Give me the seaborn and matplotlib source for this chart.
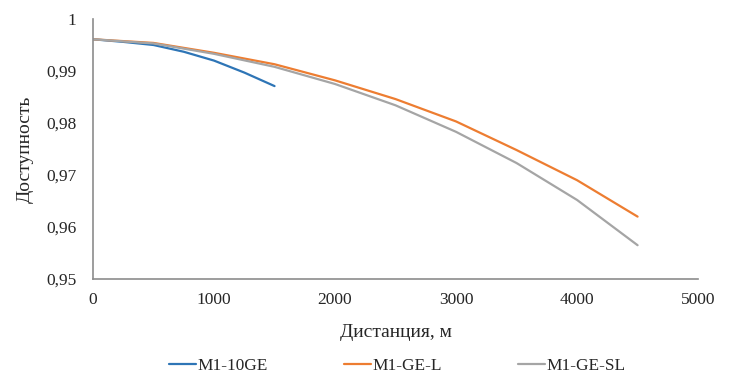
import numpy as np
import pandas as pd
import matplotlib
matplotlib.use("Agg")
import matplotlib.pyplot as plt
import seaborn as sns
from matplotlib.lines import Line2D

# Data
blue_x = [0, 250, 500, 750, 1000, 1250, 1500]
blue_y = [0.9961, 0.9956, 0.9950, 0.9937, 0.9920, 0.9897, 0.9871]
dist = [0, 500, 1000, 1500, 2000, 2500, 3000, 3500, 4000, 4500]
orange_y = [0.9961, 0.9954, 0.9935, 0.9913, 0.9882, 0.9846, 0.9803, 0.9748, 0.9690, 0.9620]
gray_y = [0.9961, 0.9953, 0.9933, 0.9908, 0.9875, 0.9834, 0.9783, 0.9723, 0.9652, 0.9565]
series_names = ["M1-10GE", "M1-GE-L", "M1-GE-SL"]
colors = ["#2E75B6", "#ED7D31", "#A5A5A5"]
xticks = [0, 1000, 2000, 3000, 4000, 5000]
xticklabels = ["0", "1000", "2000", "3000", "4000", "5000"]
yticks = [0.95, 0.96, 0.97, 0.98, 0.99, 1.0]
yticklabels = ["0,95", "0,96", "0,97", "0,98", "0,99", "1"]

df = pd.concat([
    pd.DataFrame({"x": blue_x, "y": blue_y, "s": series_names[0]}),
    pd.DataFrame({"x": dist, "y": orange_y, "s": series_names[1]}),
    pd.DataFrame({"x": dist, "y": gray_y, "s": series_names[2]}),
], ignore_index=True)

sns.set_style("white")
plt.rcParams["font.family"] = ["Liberation Serif", "DejaVu Serif"]

fig = plt.figure(figsize=(7.29, 3.77), dpi=100)
ax = fig.add_axes([0.1276, 0.2599, 0.83, 0.6897])

sns.lineplot(data=df, x="x", y="y", hue="s", palette=dict(zip(series_names, colors)),
             linewidth=1.6, ax=ax, legend=False, sort=True)

ax.set_xlim(0, 5000)
ax.set_ylim(0.95, 1.0)
ax.set_xticks(xticks)
ax.set_xticklabels(xticklabels, fontsize=12.5)
ax.set_yticks(yticks)
ax.set_yticklabels(yticklabels, fontsize=12.5)
ax.tick_params(axis="both", direction="in", length=4, width=1, color="#8c8c8c")
ax.tick_params(axis="y", pad=12)
ax.tick_params(axis="x", pad=9)

for side in ["top", "right"]:
    ax.spines[side].set_visible(False)
for side in ["left", "bottom"]:
    ax.spines[side].set_color("#8c8c8c")
    ax.spines[side].set_linewidth(1.2)

ax.set_xlabel("Дистанция, м", fontsize=14, labelpad=12)
ax.set_ylabel("Доступность", fontsize=14, labelpad=9)

handles = [Line2D([0], [0], color=c, lw=1.6) for c in colors]
fig.legend(handles, series_names, loc="center", bbox_to_anchor=(0.545, 0.028), ncol=3,
           frameon=False, fontsize=12.4, handlelength=1.6, handletextpad=0.08,
           columnspacing=4.4, borderpad=0.1)

fig.savefig("out.png", dpi=100)
